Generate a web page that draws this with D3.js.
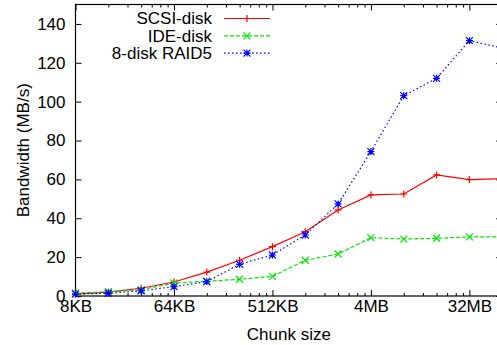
<!DOCTYPE html>
<html>
<head>
<meta charset="utf-8">
<script src="https://cdn.jsdelivr.net/npm/d3@7"></script>
<style>
  body { margin: 0; background: #fff; }
  svg { font-family: "Liberation Sans", Arial, sans-serif; }
</style>
</head>
<body>
<figure id="chart" style="margin:0"></figure>
<script>
// chunk sizes in KB
const chunks = [8, 16, 32, 64, 128, 256, 512, 1024, 2048, 4096, 8192, 16384, 32768, 65536];
const scsi  = [1, 2, 4, 7.2, 12.3, 18.4, 25.4, 33.1, 44.3, 52, 52.5, 62.3, 59.9, 60.4];
const ide   = [1.5, 2.2, 3.2, 6.7, 7.6, 8.6, 10.1, 18.4, 21.6, 30, 29.3, 29.7, 30.4, 30.4];
const raid5 = [1, 1.4, 2.7, 4.8, 7.4, 16.3, 21.1, 31.4, 47.4, 74.3, 103.1, 112, 131.4, 127.6];

const xTicks = [8, 64, 512, 4096, 32768];
const xTickLabels = ["8KB", "64KB", "512KB", "4MB", "32MB"];
const yTicks = [0, 20, 40, 60, 80, 100, 120, 140];

const series = [
  { name: "SCSI-disk", values: scsi, color: "#ff0000", dash: null, mark: "plus" },
  { name: "IDE-disk", values: ide, color: "#00e600", dash: "4,2", mark: "cross" },
  { name: "8-disk RAID5", values: raid5, color: "#0000ff", dash: "1.5,2.5", mark: "star" }
];

const width = 497, height = 345;
const mLeft = 75.5, mRight = 502.2, mTop = 4.5, mBottom = 296;

const svg = d3.select("figure#chart")
  .append("svg")
  .attr("width", width)
  .attr("height", height);

const x = d3.scaleLog().base(2)
  .domain([8, 65536])
  .range([mLeft, mRight]);
const y = d3.scaleLinear()
  .domain([0, 150])
  .range([mBottom, mTop]);

// minor ticks: 2..7 times every major (factor 8)
const minor = [];
xTicks.forEach(t => {
  for (let k = 2; k < 8; k++) if (t * k < 65536) minor.push(t * k);
});

// x axes (bottom + mirrored top), ticks inward
svg.append("g")
  .attr("transform", `translate(0,${mBottom})`)
  .call(d3.axisBottom(x).tickValues(minor).tickSize(-3).tickFormat(""))
  .call(g => g.select(".domain").remove());
svg.append("g")
  .attr("transform", `translate(0,${mTop})`)
  .call(d3.axisTop(x).tickValues(minor).tickSize(-3).tickFormat(""))
  .call(g => g.select(".domain").remove());

svg.append("g")
  .attr("transform", `translate(0,${mBottom})`)
  .call(d3.axisBottom(x).tickValues(xTicks).tickSize(-6).tickPadding(4)
    .tickFormat((d, i) => xTickLabels[i]))
  .call(g => g.select(".domain").remove())
  .call(g => g.selectAll("text").attr("fill", "#000").style("font-size", "17px")
    .style("font-family", "'Liberation Sans', Arial, sans-serif"));
svg.append("g")
  .attr("transform", `translate(0,${mTop})`)
  .call(d3.axisTop(x).tickValues(xTicks).tickSize(-6).tickFormat(""))
  .call(g => g.select(".domain").remove());

// y axes
svg.append("g")
  .attr("transform", `translate(${mLeft},0)`)
  .call(d3.axisLeft(y).tickValues(yTicks).tickSize(-6).tickPadding(10))
  .call(g => g.select(".domain").remove())
  .call(g => g.selectAll("text").attr("fill", "#000").style("font-size", "17px")
    .style("font-family", "'Liberation Sans', Arial, sans-serif"));
svg.append("g")
  .attr("transform", `translate(${mRight},0)`)
  .call(d3.axisRight(y).tickValues(yTicks).tickSize(-6).tickFormat(""))
  .call(g => g.select(".domain").remove());

svg.selectAll(".tick line").attr("stroke", "#000");

// frame
svg.append("rect")
  .attr("x", mLeft).attr("y", mTop)
  .attr("width", mRight - mLeft).attr("height", mBottom - mTop)
  .attr("fill", "none").attr("stroke", "#000").attr("stroke-width", 1.2);

// axis titles
svg.append("text")
  .attr("x", (mLeft + mRight) / 2)
  .attr("y", 340)
  .attr("text-anchor", "middle")
  .style("font-size", "17px")
  .text("Chunk size");
svg.append("text")
  .attr("transform", `translate(29,${(mTop + mBottom) / 2}) rotate(-90)`)
  .attr("text-anchor", "middle")
  .style("font-size", "17px")
  .text("Bandwidth (MB/s)");

function marker(g, type, cx, cy, color) {
  const s = 3.5;
  let p = "";
  if (type === "plus" || type === "star") p += `M${cx - s},${cy}H${cx + s}M${cx},${cy - s}V${cy + s}`;
  if (type === "cross" || type === "star") p += `M${cx - s},${cy - s}L${cx + s},${cy + s}M${cx - s},${cy + s}L${cx + s},${cy - s}`;
  g.append("path").attr("d", p).attr("stroke", color).attr("stroke-width", 1.2).attr("fill", "none");
}

const line = d3.line()
  .x((d, i) => x(chunks[i]))
  .y(d => y(d));

series.forEach((s, si) => {
  const g = svg.append("g");
  g.append("path")
    .datum(s.values)
    .attr("d", line)
    .attr("fill", "none")
    .attr("stroke", s.color)
    .attr("stroke-width", 1.2)
    .attr("stroke-dasharray", s.dash);
  s.values.forEach((v, i) => marker(g, s.mark, x(chunks[i]), y(v), s.color));

  // legend
  const ly = 18.5 + si * 17.3;
  svg.append("text")
    .attr("x", 212).attr("y", ly)
    .attr("dy", "0.35em")
    .attr("text-anchor", "end")
    .style("font-size", "17px")
    .text(s.name);
  svg.append("line")
    .attr("x1", 224).attr("x2", 270)
    .attr("y1", ly).attr("y2", ly)
    .attr("stroke", s.color)
    .attr("stroke-width", 1.2)
    .attr("stroke-dasharray", s.dash);
  marker(svg, s.mark, 247, ly, s.color);
});
</script>
</body>
</html>
